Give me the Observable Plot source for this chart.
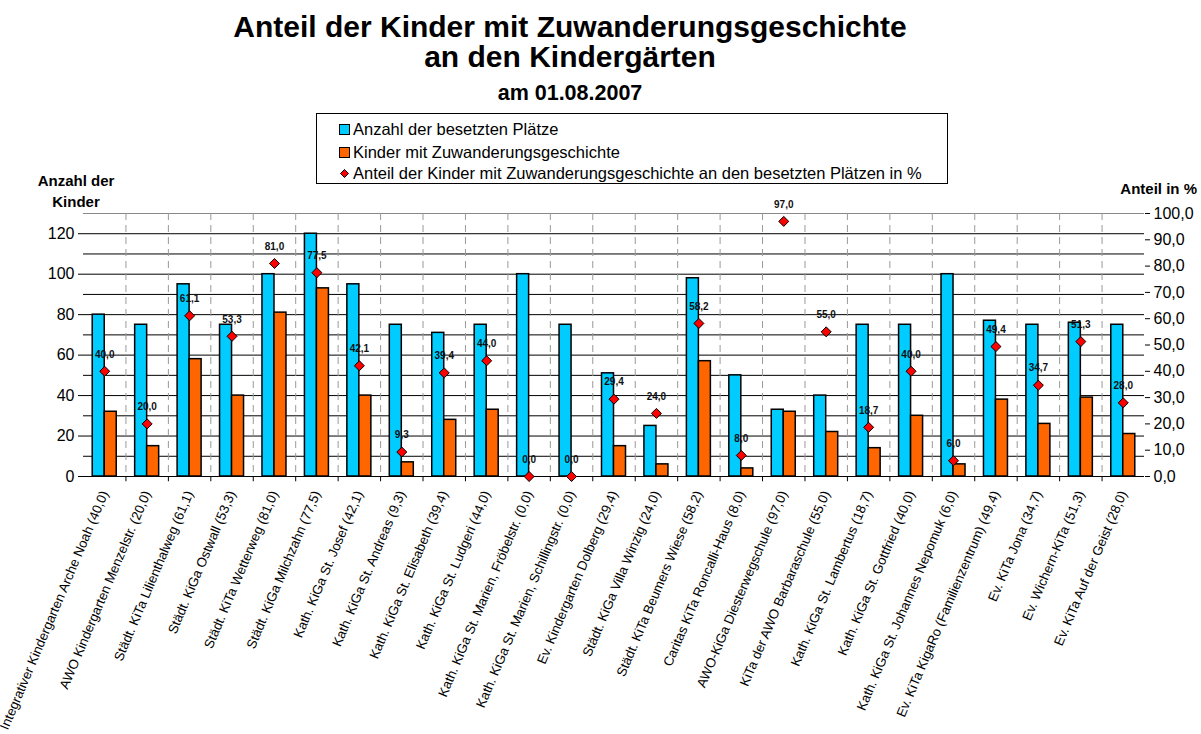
<!DOCTYPE html>
<html><head><meta charset="utf-8">
<script src="https://cdn.jsdelivr.net/npm/d3@7"></script>
<script src="https://cdn.jsdelivr.net/npm/@observablehq/plot@0.6"></script>
<style>
body{margin:0;background:#fff;font-family:"Liberation Sans",Arial,sans-serif;color:#000}
#wrap{position:relative;width:1201px;height:734px;overflow:hidden;background:#fff}
.abs{position:absolute;white-space:nowrap}
.title{left:0;width:1140px;text-align:center;font-weight:bold}
#legend{left:316px;top:113px;width:630px;height:69px;border:1px solid #000;background:#fff}
.li{position:absolute;left:22px;font-size:16.5px;line-height:20px;display:flex;align-items:center}
.sw{width:9px;height:9px;border:1px solid #000;margin-right:3px;display:inline-block}
#chart{position:absolute;left:0;top:160px}
</style>
</head><body>
<div id="wrap">
  <div class="abs title" style="top:11.5px;font-size:30px;line-height:29px">Anteil der Kinder mit Zuwanderungsgeschichte</div>
  <div class="abs title" style="top:41.5px;font-size:30px;line-height:29px">an den Kindergärten</div>
  <div class="abs title" style="top:80.5px;font-size:21.5px;line-height:24px">am 01.08.2007</div>
  <div id="legend" class="abs">
    <div class="li" style="top:5px"><span class="sw" style="background:#00ccff"></span>Anzahl der besetzten Plätze</div>
    <div class="li" style="top:28px"><span class="sw" style="background:#ff6600"></span>Kinder mit Zuwanderungsgeschichte</div>
    <div class="li" style="top:49px"><svg width="11" height="11" style="margin-right:3px"><path d="M5.5,1.5 L9.5,5.5 L5.5,9.5 L1.5,5.5Z" fill="#ff0000" stroke="#000" stroke-width="1"/></svg>Anteil der Kinder mit Zuwanderungsgeschichte an den besetzten Plätzen in %</div>
  </div>
  <div class="abs" style="left:30px;top:170px;width:92px;text-align:center;font-weight:bold;font-size:15px;line-height:21px">Anzahl der<br>Kinder</div>
  <div class="abs" style="right:4px;top:179px;font-weight:bold;font-size:15px;line-height:20px">Anteil in %</div>
  <div id="chart"></div>
</div>
<script>
const categories = [
  "Integrativer Kindergarten Arche Noah (40,0)",
  "AWO Kindergarten Menzelstr. (20,0)",
  "Städt. KiTa Lilienthalweg (61,1)",
  "Städt. KiGa Ostwall (53,3)",
  "Städt. KiTa Wetterweg (81,0)",
  "Städt. KiGa Milchzahn (77,5)",
  "Kath. KiGa St. Josef (42,1)",
  "Kath. KiGa St. Andreas (9,3)",
  "Kath. KiGa St. Elisabeth (39,4)",
  "Kath. KiGa St. Ludgeri (44,0)",
  "Kath. KiGa St. Marien, Fröbelstr. (0,0)",
  "Kath. KiGa St. Marien, Schillingstr. (0,0)",
  "Ev. Kindergarten Dolberg (29,4)",
  "Städt. KiGa Villa Winzig (24,0)",
  "Städt. KiTa Beumers Wiese (58,2)",
  "Caritas KiTa Roncalli-Haus (8,0)",
  "AWO-KiGa Diesterwegschule (97,0)",
  "KiTa der AWO Barbaraschule (55,0)",
  "Kath. KiGa St. Lambertus (18,7)",
  "Kath. KiGa St. Gottfried (40,0)",
  "Kath. KiGa St. Johannes Nepomuk (6,0)",
  "Ev. KiTa KigaRo (Familienzentrum) (49,4)",
  "Ev. KiTa Jona (34,7)",
  "Ev. Wichern-KiTa (51,3)",
  "Ev. KiTa Auf der Geist (28,0)"
];
const places  = [80, 75, 95, 75, 100, 120, 95, 75, 71, 75, 100, 75, 51, 25, 98, 50, 33, 40, 75, 75, 100, 77, 75, 76, 75];
const migrant = [32, 15, 58, 40, 81, 93, 40, 7, 28, 33, 0, 0, 15, 6, 57, 4, 32, 22, 14, 30, 6, 38, 26, 39, 21];
const percent = [40.0, 20.0, 61.1, 53.3, 81.0, 77.5, 42.1, 9.3, 39.4, 44.0, 0.0, 0.0, 29.4, 24.0, 58.2, 8.0, 97.0, 55.0, 18.7, 40.0, 6.0, 49.4, 34.7, 51.3, 28.0];
const leftTicks = [0, 20, 40, 60, 80, 100, 120];
const rightTicks = [0, 10, 20, 30, 40, 50, 60, 70, 80, 90, 100];

const W = 1201, H = 574, ML = 83, MR = 57, MT = 53, MB = 258;
const bw = (W - ML - MR) / categories.length;
const k = 130 / 100;
const fmt = v => v.toFixed(1).replace(".", ",");
const rows = categories.map((c, i) => ({cat: c, places: places[i], migrant: migrant[i], pct: percent[i]}));
const font = "Liberation Sans, Arial, sans-serif";

const chart = Plot.plot({
  width: W, height: H,
  marginLeft: ML, marginRight: MR, marginTop: MT, marginBottom: MB,
  style: {fontFamily: font, background: "transparent", color: "#000"},
  x: {type: "band", domain: categories, padding: 0, round: false, label: null},
  y: {domain: [0, 130], label: null},
  marks: [
    Plot.ruleY(d3.range(10, 121, 10), {stroke: "#000", strokeWidth: 1}),
    Plot.ruleY([130], {stroke: "#888", strokeWidth: 1.2}),
    Plot.ruleX(categories.slice(1), {dx: -bw / 2, stroke: "#999", strokeDasharray: "7,5"}),
    Plot.barY(rows, {x: "cat", y: "places", fill: "#00ccff", stroke: "#000", strokeWidth: 1.5, insetLeft: bw / 2 - 12, insetRight: bw / 2}),
    Plot.barY(rows, {x: "cat", y: "migrant", fill: "#ff6600", stroke: "#000", strokeWidth: 1.5, insetLeft: bw / 2, insetRight: bw / 2 - 12}),
    Plot.ruleY([0], {stroke: "#000", strokeWidth: 1.2}),
    Plot.ruleX(categories.slice(1), {dx: -bw / 2, y1: 0, y2: -2.6, stroke: "#000"}),
    Plot.dot(rows, {x: "cat", y: d => d.pct * k, symbol: "diamond2", r: 4.5, fill: "#ff0000", stroke: "#000", strokeWidth: 1}),
    Plot.text(rows, {x: "cat", y: d => d.pct * k, text: d => fmt(d.pct), dy: -17, fontSize: 10, fontWeight: "bold", fill: "#111"}),
    Plot.axisY(leftTicks, {anchor: "left", tickSize: 5, tickPadding: 4, fontSize: 16, line: true, label: null}),
    Plot.axisY(rightTicks.map(v => v * k), {anchor: "right", tickSize: 5, tickPadding: 4, fontSize: 16, line: true, label: null, tickFormat: d => fmt(d / k)}),
    Plot.axisX({anchor: "bottom", tickSize: 0, tickPadding: 15, tickRotate: -67, fontSize: 13.3, label: null})
  ]
});
document.getElementById("chart").appendChild(chart);
</script>
</body></html>
